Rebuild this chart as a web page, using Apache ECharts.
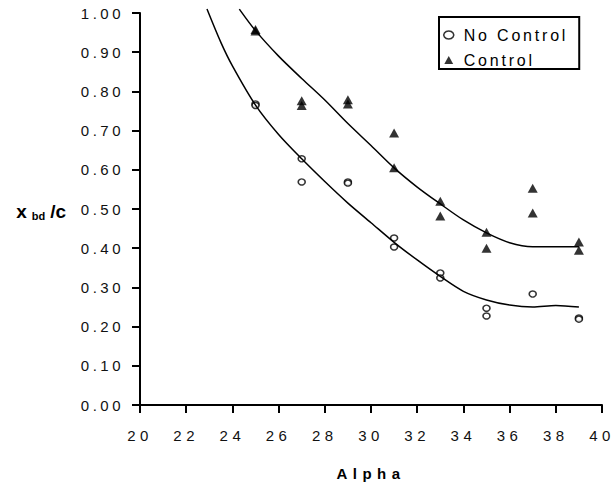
<!DOCTYPE html>
<html>
<head>
<meta charset="utf-8">
<script src="https://cdn.jsdelivr.net/npm/echarts@6/dist/echarts.min.js"></script>
<style>
  html, body { margin: 0; padding: 0; background: #fff; }
  #chart { width: 615px; height: 491px; }
</style>
</head>
<body>
<div id="chart"></div>
<script>
// Observed separation depth ratio against Alpha, with and without control
const noControlAlpha = [25, 25, 27, 27, 29, 29, 31, 31, 33, 33, 35, 35, 37, 39, 39];
const noControlRatio = [0.768, 0.764, 0.628, 0.569, 0.569, 0.566, 0.426, 0.403, 0.337, 0.324, 0.247, 0.227, 0.283, 0.222, 0.219];

const controlAlpha = [25, 25, 27, 27, 29, 29, 31, 31, 33, 33, 35, 35, 37, 37, 39, 39];
const controlRatio = [0.958, 0.954, 0.776, 0.764, 0.779, 0.768, 0.694, 0.605, 0.520, 0.482, 0.441, 0.400, 0.553, 0.490, 0.416, 0.395];

// Fitted trend curves
const noControlFitAlpha = [22.9, 23.5, 24, 25, 26, 27, 28, 29, 30, 31, 32, 33, 34, 35, 36, 37, 38, 39];
const noControlFitRatio = [1.01, 0.925, 0.865, 0.765, 0.69, 0.628, 0.57, 0.515, 0.465, 0.415, 0.37, 0.328, 0.29, 0.268, 0.255, 0.25, 0.254, 0.25];

const controlFitAlpha = [24.3, 25, 26, 27, 28, 29, 30, 31, 32, 33, 34, 35, 36, 37, 38, 39];
const controlFitRatio = [1.01, 0.955, 0.89, 0.833, 0.778, 0.718, 0.662, 0.605, 0.556, 0.513, 0.472, 0.439, 0.414, 0.404, 0.404, 0.404];

const seriesNames = ['No Control', 'Control'];
const xAxisTitle = 'Alpha';

const pairs = (xs, ys) => xs.map((x, i) => [x, ys[i]]);

const FONT = '"Liberation Sans", Arial, sans-serif';

const chart = echarts.init(document.getElementById('chart'), null, { renderer: 'svg' });

chart.setOption({
  animation: false,
  backgroundColor: '#ffffff',
  grid: { left: 140, right: 13, top: 13, bottom: 86, containLabel: false },
  legend: {
    orient: 'vertical',
    left: 439,
    top: 17,
    padding: [10, 39, 1, 4],
    itemGap: 9,
    itemWidth: 20,
    itemHeight: 8,
    symbolKeepAspect: true,
    borderColor: '#000',
    borderWidth: 2,
    borderRadius: 0,
    backgroundColor: '#fff',
    textStyle: { fontFamily: FONT, fontSize: 16, color: '#000' },
    data: [
      { name: seriesNames[0], icon: 'path://M5,0 A5,4 0 1 1 4.99,0 Z', itemStyle: { color: '#fff', borderColor: '#000', borderWidth: 1.5 } },
      { name: seriesNames[1], icon: 'path://M5,0 L10,9 L0,9 Z', itemStyle: { color: '#000' } }
    ]
  },
  xAxis: {
    type: 'value',
    min: 20, max: 40, interval: 2,
    splitLine: { show: false },
    axisLine: { onZero: false, lineStyle: { color: '#000', width: 2 } },
    axisTick: { show: true, length: 8, inside: false, lineStyle: { color: '#000', width: 2 } },
    axisLabel: { margin: 23, fontFamily: FONT, fontSize: 15, color: '#111' },
    name: xAxisTitle,
    nameLocation: 'middle',
    nameGap: 61,
    nameTextStyle: { fontFamily: FONT, fontSize: 15, fontWeight: 'bold', color: '#000' }
  },
  yAxis: {
    type: 'value',
    min: 0, max: 1, interval: 0.1,
    splitLine: { show: false },
    axisLine: { show: true, lineStyle: { color: '#000', width: 2 } },
    axisTick: { show: true, length: 8, inside: false, lineStyle: { color: '#000', width: 2 } },
    axisLabel: { margin: 16, fontFamily: FONT, fontSize: 15, color: '#111', formatter: v => v.toFixed(2) },
    name: '{big|x}{small|bd}{big|/c}',
    nameLocation: 'middle',
    nameRotate: 0,
    nameGap: 74,
    nameTextStyle: {
      fontFamily: FONT, fontWeight: 'bold', color: '#000', padding: [4, 0, 0, 0],
      rich: {
        big: { fontFamily: FONT, fontSize: 19, fontWeight: 'bold', color: '#000', lineHeight: 20, verticalAlign: 'bottom' },
        small: { fontFamily: FONT, fontSize: 11, fontWeight: 'bold', color: '#000', lineHeight: 13, verticalAlign: 'bottom', padding: [0, 5, 0, 5] }
      }
    }
  },
  series: [
    {
      name: 'No Control fit', type: 'line', smooth: 0.3, showSymbol: false, clip: false,
      lineStyle: { color: '#000', width: 1.5 }, silent: true,
      data: pairs(noControlFitAlpha, noControlFitRatio)
    },
    {
      name: 'Control fit', type: 'line', smooth: 0.3, showSymbol: false, clip: false,
      lineStyle: { color: '#000', width: 1.5 }, silent: true,
      data: pairs(controlFitAlpha, controlFitRatio)
    },
    {
      name: seriesNames[0], type: 'scatter', symbol: 'circle', symbolSize: [7, 6],
      itemStyle: { color: '#fff', borderColor: '#000', borderWidth: 1.5 },
      data: pairs(noControlAlpha, noControlRatio)
    },
    {
      name: seriesNames[1], type: 'scatter', symbol: 'triangle', symbolSize: [10, 9],
      itemStyle: { color: '#000' },
      data: pairs(controlAlpha, controlRatio)
    }
  ]
});

// Widen the character spacing of the axis and legend texts
function spaceLetters() {
  document.querySelectorAll('#chart svg text').forEach(t => {
    const s = t.textContent;
    let ls = 0;
    if (/^\d+$/.test(s)) ls = 4.5;
    else if (/^\d\.\d\d$/.test(s)) ls = 3.5;
    else if (s === xAxisTitle) ls = 5.5;
    else if (seriesNames.includes(s)) ls = 2.8;
    t.setAttribute('letter-spacing', ls);
  });
}
spaceLetters();
chart.on('finished', spaceLetters);
</script>
</body>
</html>
